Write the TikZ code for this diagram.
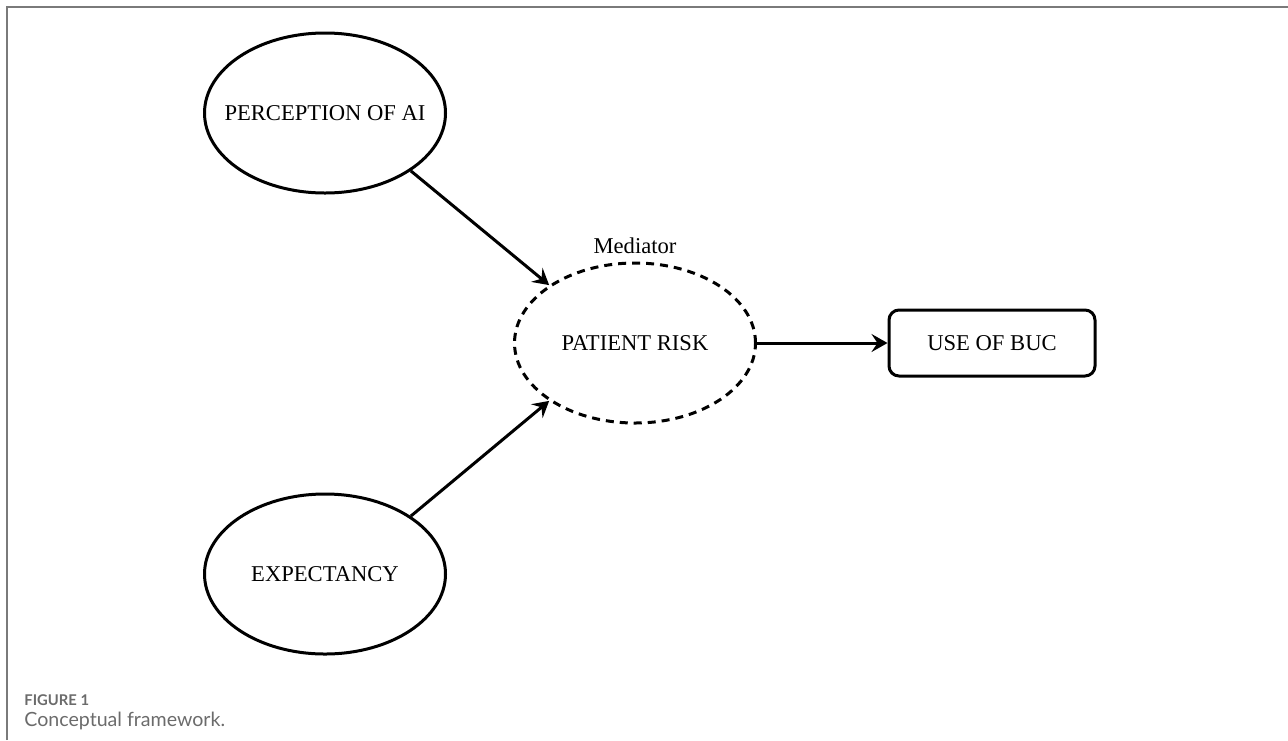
\documentclass[tikz,border=0pt]{standalone}
\usepackage{fontspec}
\setmainfont{Liberation Serif}
\newfontfamily\captionFont{Lato}
\usetikzlibrary{arrows.meta}
\usetikzlibrary{shapes.geometric}
\definecolor{frameGray}{HTML}{7A7A7A}
\definecolor{captionGray}{HTML}{6B6B6B}
\newcommand{\figureFrame}{%%
  %% Thin rules along the top and the left.
  \draw[frameStyle] (frameBottom) -- (frameCorner) -- (frameRight);
}
\newcommand{\figureCaption}{%%
  \node[captionHeadStyle] (captionHead) at (captionHeadPos) {FIGURE 1};
  \node[captionTextStyle] (captionText) at (captionTextPos) {Conceptual framework.};
}
\newcommand{\predictorArrows}{%%
  %% Both predictors point into the mediator.
  \draw[arrowStyle] (perception.-34) -- (risk.146);
  \draw[arrowStyle] (expectancy.34) -- (risk.214);
}

\begin{document}
\begin{tikzpicture}[%%
  x=0.5pt,y=-0.5pt,%%
  textStyle/.style={font=\fontsize{11.3}{13}\selectfont},%%
  ellipseStyle/.style={draw,ellipse,line width=1.5pt,inner xsep=-10pt,inner ysep=0pt,minimum width=120.5pt,minimum height=80pt,textStyle},%%
  mediatorStyle/.style={ellipseStyle,dash pattern=on 4pt off 3pt},%%
  boxStyle/.style={draw,rectangle,rounded corners=5pt,line width=1.5pt,minimum width=103pt,minimum height=33pt,textStyle},%%
  arrowStyle/.style={-{Stealth[length=8pt,width=9pt,inset=3pt]},line width=1.5pt},%%
  frameStyle/.style={draw=frameGray,line width=0.6pt},%%
  captionHeadStyle/.style={anchor=base west,inner sep=0pt,text=captionGray,font=\captionFont\bfseries\fontsize{7.4}{9}\selectfont},%%
  captionTextStyle/.style={anchor=base west,inner sep=0pt,text=captionGray,font=\captionFont\fontsize{9.8}{12}\selectfont}%%
]
%%
%%
\useasboundingbox (0,0) rectangle (1288,740);
%% The frame and the caption.
\coordinate (frameCorner) at (7,7);
\coordinate (frameBottom) at (7,740);
\coordinate (frameRight) at (1288,7);
\coordinate (captionHeadPos) at (24,705);
\coordinate (captionTextPos) at (24,726);
%% The constructs.
\node[ellipseStyle] (perception) at (325,113) {PERCEPTION OF AI};
\node[ellipseStyle] (expectancy) at (325,574) {EXPECTANCY};
\node[mediatorStyle] (risk) at (635,343) {PATIENT RISK};
\node[textStyle,anchor=base] (mediator) at (635,253) {Mediator};
\node[boxStyle] (buc) at (992,343) {USE OF BUC};
%%
%%
\figureFrame
\predictorArrows
\draw[arrowStyle] (risk) -- (buc);
\figureCaption
\end{tikzpicture}
\end{document}
